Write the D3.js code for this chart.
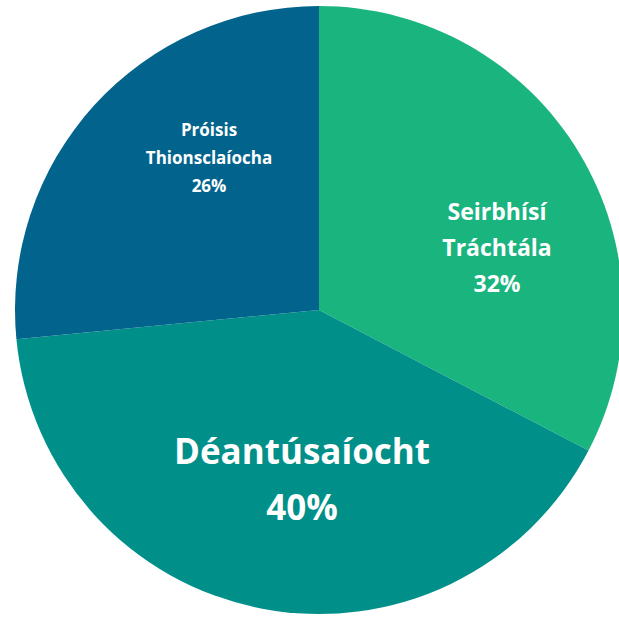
<!DOCTYPE html>
<html lang="ga">
<head>
  <meta charset="utf-8" />
  <title>Pie chart</title>
  <script src="https://d3js.org/d3.v7.min.js"></script>
  <style>
    html, body {
      margin: 0;
      padding: 0;
      background: #fff;
      overflow: hidden;
    }
    .label text {
      fill: #fff;
      font-family: "Open Sans", Lato, sans-serif;
      font-weight: 700;
      text-anchor: middle;
    }
  </style>
</head>
<body>
<script>
// data, clockwise from 12 o'clock
const categories = ["Seirbhísí Tráchtála", "Déantúsaíocht", "Próisis Thionsclaíocha"];
const values = [32, 40, 26];
const colors = ["#1ab47f", "#009089", "#02648c"];

// label lines per slice (category split to lines, then the percentage)
const labelLines = [["Seirbhísí", "Tráchtála"], ["Déantúsaíocht"], ["Próisis", "Thionsclaíocha"]];

const width = 619, height = 619;
const cx = 319, cy = 310, radius = 304;

// label layout, offsets from pie centre (hand placed like the original)
const labelLayout = [
  { dx: 178, dy: -62, size: 23, lineH: 36 },
  { dx: -17, dy: 170, size: 35, lineH: 56 },
  { dx: -110, dy: -152, size: 17, lineH: 28 }
];

const svg = d3.select("body")
  .append("svg")
  .attr("width", width)
  .attr("height", height);

const g = svg.append("g")
  .attr("transform", `translate(${cx},${cy})`);

const pie = d3.pie().sort(null).value(d => d.value);
const arc = d3.arc().innerRadius(0).outerRadius(radius);

const data = categories.map((c, i) => ({ name: c, value: values[i], color: colors[i], lines: labelLines[i], layout: labelLayout[i] }));
const arcs = pie(data);

g.selectAll("path")
  .data(arcs)
  .enter().append("path")
  .attr("d", arc)
  .attr("fill", d => d.data.color);

const labels = g.selectAll(".label")
  .data(arcs)
  .enter().append("g")
  .attr("class", "label")
  .attr("transform", d => `translate(${d.data.layout.dx},${d.data.layout.dy})`);

labels.each(function(d) {
  const L = d.data.layout;
  const lines = d.data.lines.concat([d.data.value + "%"]);
  const n = lines.length;
  d3.select(this).selectAll("text")
    .data(lines)
    .enter().append("text")
    .style("font-size", L.size + "px")
    .attr("y", (t, i) => (i - (n - 1) / 2) * L.lineH)
    .attr("dy", "0.35em")
    .text(t => t);
});
</script>
</body>
</html>
